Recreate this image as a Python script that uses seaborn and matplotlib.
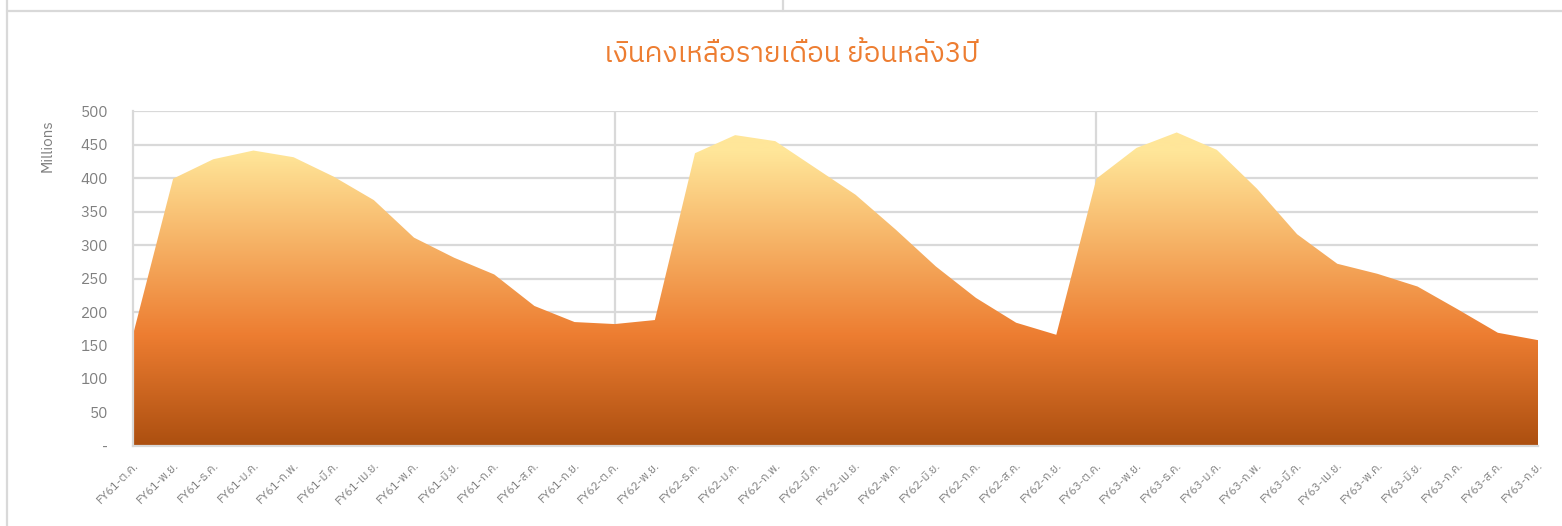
import numpy as np
import pandas as pd
import matplotlib
matplotlib.use("Agg")
import matplotlib.pyplot as plt
import seaborn as sns
from matplotlib import font_manager
from matplotlib.ft2font import FT2Font
from matplotlib.colors import LinearSegmentedColormap
from matplotlib.lines import Line2D

# ---------------- data ----------------
years = ["FY61", "FY62", "FY63"]
months = ["ต.ค.", "พ.ย.", "ธ.ค.", "ม.ค.", "ก.พ.", "มี.ค.",
          "เม.ย.", "พ.ค.", "มิ.ย.", "ก.ค.", "ส.ค.", "ก.ย."]
labels = [f"{y}-{m}" for y in years for m in months]

balance_fy61 = [166, 399, 428, 441, 431, 402, 367, 311, 281, 256, 209, 185]
balance_fy62 = [182, 188, 437, 464, 455, 415, 375, 323, 268, 221, 184, 166]
balance_fy63 = [399, 445, 468, 442, 384, 316, 272, 257, 238, 204, 169, 158]
values = balance_fy61 + balance_fy62 + balance_fy63

yticks = [0, 50, 100, 150, 200, 250, 300, 350, 400, 450, 500]
ytick_labels = ["-", "50", "100", "150", "200", "250", "300", "350", "400", "450", "500"]

title = "เงินคงเหลือรายเดือน ย้อนหลัง3ปี"
unit_label = "Millions"

df = pd.DataFrame({"idx": np.arange(len(values)), "label": labels, "value": values})

# ---------------- font with Thai coverage ----------------
def find_thai_font():
    cands = []
    for f in font_manager.fontManager.ttflist:
        try:
            cm = FT2Font(f.fname).get_charmap()
        except Exception:
            continue
        if 0x0E07 in cm and 0x0E40 in cm:
            cands.append(f.name)
    pref = [c for c in cands if "Sans" in c and "Thai" in c]
    pref += [c for c in cands if "Sans" in c]
    pref += cands
    return pref[0] if pref else None

sns.set_theme(style="white")
thai = find_thai_font()
fams = ([thai] if thai else []) + ["DejaVu Sans"]
plt.rcParams["font.family"] = fams

GRID = "#d9d9d9"
TXT = "#7f7f7f"

fig = plt.figure(figsize=(15.62, 5.26), dpi=100)
ax = fig.add_axes([133 / 1562, 1 - 446 / 526, (1538 - 133) / 1562, (446 - 111) / 526])

sns.lineplot(data=df, x="idx", y="value", ax=ax, lw=0, color="#ED7D31")

# gradient fill clipped to area
poly = ax.fill_between(df["idx"], 0, df["value"], facecolor="none", edgecolor="none")
cmap = LinearSegmentedColormap.from_list(
    "g", [(0.0, "#AC4F10"), (165 / 500, "#ED7D31"), (440 / 500, "#FFE699"), (1.0, "#FFE699")])
grad = np.linspace(0, 1, 512).reshape(-1, 1)
im = ax.imshow(grad, extent=[0, len(values) - 1, 0, 500], origin="lower",
               aspect="auto", cmap=cmap, zorder=2)
im.set_clip_path(poly.get_paths()[0], transform=ax.transData)

ax.set_xlim(0, len(values) - 1)
ax.set_ylim(0, 500)
ax.set_yticks(yticks)
ax.set_yticklabels(ytick_labels)
ax.set_xticks(df["idx"])
ax.set_xticklabels(labels, rotation=45, ha="right", rotation_mode="anchor")
ax.set_xlabel("")
ax.set_ylabel("")

ax.yaxis.grid(True, color=GRID, lw=1.6)
ax.xaxis.grid(False)
for xv in [12, 24]:
    ax.axvline(xv, color=GRID, lw=1.6, zorder=0.5)
ax.set_axisbelow(True)

for s in ["top", "right"]:
    ax.spines[s].set_visible(False)
ax.spines["left"].set_color(GRID)
ax.spines["left"].set_linewidth(1.6)
ax.spines["bottom"].set_color(GRID)
ax.spines["bottom"].set_linewidth(1.6)
ax.spines["bottom"].set_zorder(3)

ax.tick_params(axis="y", length=0, pad=18, labelsize=11, labelcolor=TXT)
ax.tick_params(axis="x", length=0, pad=10, labelsize=8.5, labelcolor=TXT)

fig.text(48 / 1562, 1 - 146 / 526, unit_label, rotation=90, ha="center", va="center",
         fontsize=11, color=TXT)
fig.text(791 / 1562, 1 - 54 / 526, title, ha="center", va="center",
         fontsize=20, color="#ED7D31")

# surrounding panel borders
fig.add_artist(Line2D([7 / 1562, 1], [1 - 11 / 526, 1 - 11 / 526], color=GRID, lw=1.6,
                      transform=fig.transFigure))
fig.add_artist(Line2D([7 / 1562, 7 / 1562], [0, 1], color=GRID, lw=1.6,
                      transform=fig.transFigure))
fig.add_artist(Line2D([783 / 1562, 783 / 1562], [1 - 11 / 526, 1], color=GRID, lw=1.6,
                      transform=fig.transFigure))

fig.savefig("out.png", dpi=100)
